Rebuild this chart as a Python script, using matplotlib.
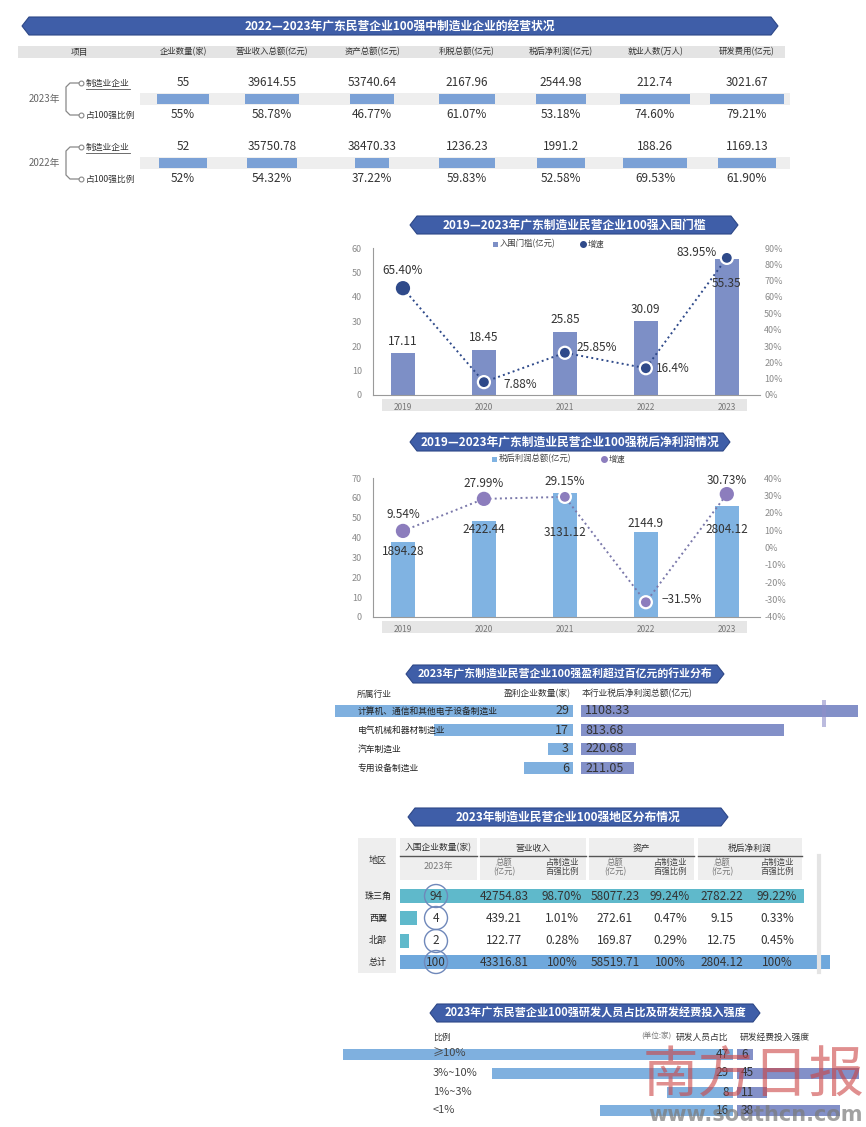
import matplotlib
matplotlib.use("Agg")
import matplotlib.pyplot as plt
from matplotlib.patches import Polygon, Rectangle, Circle
import numpy as np

plt.rcParams['font.family'] = ['Noto Sans CJK SC', 'DejaVu Sans']

W, H = 866, 1127

# ---------------- 数据 ----------------
# 表1: 2022-2023 年制造业企业经营状况
t1_cols = ["企业数量", "营业收入总额", "资产总额", "利税总额", "税后净利润", "就业人数", "研发费用"]
t1_units = ["(家)", "(亿元)", "(亿元)", "(亿元)", "(亿元)", "(万人)", "(亿元)"]
t1_2023_vals = ["55", "39614.55", "53740.64", "2167.96", "2544.98", "212.74", "3021.67"]
t1_2023_pct = ["55%", "58.78%", "46.77%", "61.07%", "53.18%", "74.60%", "79.21%"]
t1_2022_vals = ["52", "35750.78", "38470.33", "1236.23", "1991.2", "188.26", "1169.13"]
t1_2022_pct = ["52%", "54.32%", "37.22%", "59.83%", "52.58%", "69.53%", "61.90%"]

# 图2/图3
years = ["2019", "2020", "2021", "2022", "2023"]
threshold = [17.11, 18.45, 25.85, 30.09, 55.35]
threshold_growth = ["65.40%", "7.88%", "25.85%", "16.4%", "83.95%"]
profit = [1894.28, 2422.44, 3131.12, 2144.9, 2804.12]
profit_growth = ["9.54%", "27.99%", "29.15%", "−31.5%", "30.73%"]

# 图4: 行业分布
ind_names = ["计算机、通信和其他电子设备制造业", "电气机械和器材制造业", "汽车制造业", "专用设备制造业"]
ind_count = [29, 17, 3, 6]
ind_profit = [1108.33, 813.68, 220.68, 211.05]

# 表5: 地区分布
regions = ["珠三角", "西翼", "北部", "总计"]
reg_count = [94, 4, 2, 100]
reg_rev = ["42754.83", "439.21", "122.77", "43316.81"]
reg_rev_pct = ["98.70%", "1.01%", "0.28%", "100%"]
reg_asset = ["58077.23", "272.61", "169.87", "58519.71"]
reg_asset_pct = ["99.24%", "0.47%", "0.29%", "100%"]
reg_profit = ["2782.22", "9.15", "12.75", "2804.12"]
reg_profit_pct = ["99.22%", "0.33%", "0.45%", "100%"]

# 图6: 研发 (单位: 家)
rd_bins = ["≥10%", "3%~10%", "1%~3%", "<1%"]
rd_staff = [47, 29, 8, 16]
rd_spend = [6, 45, 11, 38]


def pct(s):
    return float(s.replace("%", "").replace("−", "-"))


BANNER = '#3f5ea8'
DARK = '#333333'
GRAY = '#8a8a8a'

fig = plt.figure(figsize=(W / 100, H / 100), dpi=100)
fig.patch.set_facecolor('white')

# 像素坐标的底层画布
ov = fig.add_axes([0, 0, 1, 1])
ov.set_xlim(0, W)
ov.set_ylim(H, 0)
ov.axis('off')


def box(x0, y0, x1, y1):
    return [x0 / W, 1 - y1 / H, (x1 - x0) / W, (y1 - y0) / H]


def banner(x0, x1, yc, text, h=18, fs=8.5):
    y0, y1 = yc - h / 2, yc + h / 2
    pts = [(x0, yc), (x0 + 7, y0), (x1 - 7, y0), (x1, yc), (x1 - 7, y1), (x0 + 7, y1)]
    ov.add_patch(Polygon(pts, closed=True, fc=BANNER, ec='#2d4787', lw=0.8))
    ov.text((x0 + x1) / 2, yc, text, color='white', fontsize=fs, fontweight='bold',
            ha='center', va='center')


# ================= 表1 =================
banner(22, 778, 26, "2022—2023年广东民营企业100强中制造业企业的经营状况")
ov.add_patch(Rectangle((18, 46), 767, 12, fc='#e4e4e4', ec='none'))
col_x = [183, 272, 372, 467, 561, 655, 747]
ov.text(80, 52, "项目", fontsize=6.3, color=DARK, ha='center', va='center')
for x, c, u in zip(col_x, t1_cols, t1_units):
    ov.text(x, 52, c + u, fontsize=6, color=DARK, ha='center', va='center')

for yv, vals, pcts, yr in [(83, t1_2023_vals, t1_2023_pct, "2023年"),
                           (147, t1_2022_vals, t1_2022_pct, "2022年")]:
    ymid = yv + 16
    ov.add_patch(Rectangle((140, ymid - 6), 650, 12, fc='#eeeeee', ec='none'))
    widths = np.array([pct(p) for p in pcts]) * 0.93
    ov.bar(col_x, 10, width=widths, bottom=ymid - 5, color='#7ba1d6')
    for x, v, p in zip(col_x, vals, pcts):
        ov.text(x, yv, v, fontsize=8.5, color=DARK, ha='center', va='center')
        ov.text(x, ymid + 16, p, fontsize=8.5, color=DARK, ha='center', va='center')
    # 左侧括号
    ov.text(44, ymid, yr, fontsize=7, color='#666666', ha='center', va='center')
    ov.plot([80, 70, 66, 66, 70, 80], [yv, yv, yv + 4, ymid + 12, ymid + 16, ymid + 16],
            color='#888888', lw=0.9)
    ov.plot([81, 81], [yv, ymid + 16], ls='none', marker='o', ms=3.5, mfc='white',
            mec='#888888', mew=0.8)
    ov.text(86, yv, "制造业企业", fontsize=6.3, color=DARK, ha='left', va='center')
    ov.plot([86, 130], [yv + 6, yv + 6], color='#555555', lw=0.6)
    ov.text(86, ymid + 16, "占100强比例", fontsize=6.3, color=DARK, ha='left', va='center')

# ================= 图2: 入围门槛 =================
banner(410, 738, 225, "2019—2023年广东制造业民营企业100强入围门槛")
C2_BAR, C2_DOT = '#7d8fc6', '#2f4a8a'
ov.add_patch(Rectangle((493, 241.5), 5, 5, fc=C2_BAR, ec='none'))
ov.text(500, 244, "入围门槛(亿元)", fontsize=6, color='#444444', va='center')
ov.plot([583], [244], 'o', ms=4, color=C2_DOT)
ov.text(588, 244, "增速", fontsize=6, color='#444444', va='center')
ov.add_patch(Rectangle((382, 399), 365, 12, fc='#e6e6e6', ec='none'))

x = np.arange(len(years))
ax2 = fig.add_axes(box(373, 248, 760, 395))
ax2.set_facecolor('none')
ax2.bar(x, threshold, width=0.29, color=C2_BAR, zorder=2)
ax2.set_xlim(-0.37, 4.41)
ax2.set_ylim(0, 60)
ax2.set_yticks(range(0, 61, 10))
ax2.set_xticks(x)
ax2.set_xticklabels(years)
rax2 = ax2.twinx()
rax2.set_ylim(0, 90)
rax2.set_yticks(range(0, 91, 10))
rax2.set_yticklabels([f"{v}%" for v in range(0, 91, 10)])
g2 = [pct(s) for s in threshold_growth]
rax2.plot(x, g2, ls=':', color=C2_DOT, lw=1.4, zorder=3)
rax2.scatter(x, g2, s=75, color=C2_DOT, edgecolors=[C2_DOT, 'white', 'white', 'white', 'white'],
             linewidths=1.6, zorder=4)

bar_off2 = [(0, 4, 'center', 'bottom'), (0, 4, 'center', 'bottom'), (0, 4, 'center', 'bottom'),
            (0, 4, 'center', 'bottom'), (0, -17, 'center', 'center')]
for i, v in enumerate(threshold):
    dx, dy, ha, va = bar_off2[i]
    ax2.annotate(f"{v:.2f}", (i, v), xytext=(dx, dy), textcoords='offset points',
                 ha=ha, va=va, fontsize=8.5, color=DARK, zorder=5)
dot_off2 = [(0, 13, 'center'), (14, -2, 'left'), (8, 4, 'left'), (7, 0, 'left'), (-7, 4, 'right')]
for i, s in enumerate(threshold_growth):
    dx, dy, ha = dot_off2[i]
    rax2.annotate(s, (i, g2[i]), xytext=(dx, dy), textcoords='offset points',
                  ha=ha, va='center', fontsize=8.5, color=DARK, zorder=5)

# ================= 图3: 税后净利润 =================
banner(410, 730, 442, "2019—2023年广东制造业民营企业100强税后净利润情况")
C3_BAR, C3_DOT = '#80b3e2', '#8c7dbd'
ov.add_patch(Rectangle((492, 456.5), 5, 5, fc=C3_BAR, ec='none'))
ov.text(499, 459, "税后利润总额(亿元)", fontsize=6, color='#444444', va='center')
ov.plot([604], [459], 'o', ms=4, color=C3_DOT)
ov.text(609, 459, "增速", fontsize=6, color='#444444', va='center')
ov.add_patch(Rectangle((382, 621), 365, 12, fc='#e6e6e6', ec='none'))

ax3 = fig.add_axes(box(373, 478, 760, 617))
ax3.set_facecolor('none')
# 柱高按 亿元/50 画在 0-70 的左轴上
ax3.bar(x, np.array(profit) / 50, width=0.29, color=C3_BAR, zorder=2)
ax3.set_xlim(-0.37, 4.41)
ax3.set_ylim(0, 70)
ax3.set_yticks(range(0, 71, 10))
ax3.set_xticks(x)
ax3.set_xticklabels(years)
rax3 = ax3.twinx()
rax3.set_ylim(-40, 40)
rax3.set_yticks(range(-40, 41, 10))
rax3.set_yticklabels([f"{v}%" for v in range(-40, 41, 10)])
g3 = [pct(s) for s in profit_growth]
rax3.plot(x, g3, ls=':', color='#7a78aa', lw=1.4, zorder=3)
rax3.scatter(x, g3, s=75, color=C3_DOT, edgecolors=[C3_DOT, C3_DOT, 'white', 'white', C3_DOT],
             linewidths=1.6, zorder=4)
bar_off3 = [-7, -6, -29, 6, -17]
for i, v in enumerate(profit):
    ax3.annotate(f"{v:g}" if i == 3 else f"{v:.2f}", (i, v / 50), xytext=(0, bar_off3[i]),
                 textcoords='offset points', ha='center', va='center', fontsize=8.5,
                 color=DARK, zorder=5)
dot_off3 = [(0, 12, 'center'), (0, 11, 'center'), (0, 11, 'center'), (11, 2, 'left'), (0, 10, 'center')]
for i, s in enumerate(profit_growth):
    dx, dy, ha = dot_off3[i]
    rax3.annotate(s, (i, g3[i]), xytext=(dx, dy), textcoords='offset points',
                  ha=ha, va='center', fontsize=8.5, color=DARK, zorder=5)

for a, ra in [(ax2, rax2), (ax3, rax3)]:
    for sp in ['top', 'right']:
        a.spines[sp].set_visible(False)
    for sp in ['left', 'bottom']:
        a.spines[sp].set_color('#9a9a9a')
        a.spines[sp].set_linewidth(0.8)
    for sp in ra.spines.values():
        sp.set_visible(False)
    a.tick_params(axis='y', length=0, labelsize=6.5, labelcolor='#8a8a8a', pad=8)
    a.tick_params(axis='x', length=0, labelsize=6, labelcolor='#777777', pad=6)
    ra.tick_params(axis='y', length=0, labelsize=6.5, labelcolor='#8a8a8a', pad=3)

# ================= 图4: 行业分布 =================
banner(406, 724, 674, "2023年广东制造业民营企业100强盈利超过百亿元的行业分布", fs=7.8)
ov.text(357, 694, "所属行业", fontsize=6.3, color=DARK, va='center')
ov.text(571, 694, "盈利企业数量(家)", fontsize=6.3, color=DARK, ha='right', va='center')
ov.text(582, 694, "本行业税后净利润总额(亿元)", fontsize=6.3, color=DARK, ha='left', va='center')
ind_y = [711, 730, 749, 768]
cnt_w = np.array(ind_count) * 8.2
ov.barh(ind_y, cnt_w, left=573 - cnt_w, height=12, color='#7fb0df')
ov.barh(ind_y, np.array(ind_profit) * 0.25, left=581, height=12, color='#8390c8')
ov.add_patch(Rectangle((822, 700), 4, 27, fc='#8f8fc8', ec='none', alpha=0.6))
for yy, n, c, p in zip(ind_y, ind_names, ind_count, ind_profit):
    ov.text(358, yy, n, fontsize=6.3, color='#222222', va='center')
    ov.text(569, yy, str(c), fontsize=9, color=DARK, ha='right', va='center')
    ov.text(585, yy, f"{p:.2f}", fontsize=9, color=DARK, ha='left', va='center')

# ================= 表5: 地区分布 =================
banner(408, 728, 817, "2023年制造业民营企业100强地区分布情况")
PANEL = '#eeeeee'
ov.add_patch(Rectangle((358, 838), 38, 135, fc=PANEL, ec='none'))
groups = [(400, 477, "入围企业数量(家)"), (480, 586, "营业收入"), (589, 694, "资产"), (698, 802, "税后净利润")]
for gx0, gx1, gt in groups:
    ov.add_patch(Rectangle((gx0, 838), gx1 - gx0, 42, fc=PANEL, ec='none'))
    ov.plot([gx0, gx1], [856, 856], color='#555555', lw=1)
    ov.text((gx0 + gx1) / 2, 848, gt, fontsize=6.3, color=DARK, ha='center', va='center')
ov.text(378, 861, "地区", fontsize=6.5, color=DARK, ha='center', va='center')
ov.text(438, 867, "2023年", fontsize=6.5, color='#777777', ha='center', va='center')
sub_x = [504, 562, 615, 670, 722, 777]
for i, sx in enumerate(sub_x):
    if i % 2 == 0:
        ov.text(sx, 867, "总额\n(亿元)", fontsize=6, color='#777777', ha='center', va='center',
                linespacing=1.0)
    else:
        ov.text(sx, 867, "占制造业\n百强比例", fontsize=6, color='#444444', ha='center', va='center',
                linespacing=1.0)
ov.plot([819, 819], [856, 972], color='#e4e4e4', lw=3)
reg_y = [896, 918, 941, 962]
ov.barh(reg_y, np.array(reg_count) * 4.3, left=400, height=14,
        color=['#5fb9cb', '#5fb9cb', '#5fb9cb', '#6fa8dc'])
cols5 = [reg_rev, reg_rev_pct, reg_asset, reg_asset_pct, reg_profit, reg_profit_pct]
for i, yy in enumerate(reg_y):
    ov.text(378, yy, regions[i], fontsize=6.5, color='#222222', ha='center', va='center')
    ov.add_patch(Circle((436, yy), 11.5, fc='none', ec='#6f88ba', lw=1))
    ov.text(436, yy, str(reg_count[i]), fontsize=8.5, color=DARK, ha='center', va='center')
    for sx, col in zip(sub_x, cols5):
        ov.text(sx, yy, col[i], fontsize=8.5, color=DARK, ha='center', va='center')

# ================= 图6: 研发 =================
banner(430, 760, 1013, "2023年广东民营企业100强研发人员占比及研发经费投入强度", fs=8)
ov.text(433, 1037, "比例", fontsize=6.3, color=DARK, va='center')
ov.text(672, 1037, "(单位:家)", fontsize=5.5, color='#777777', ha='right', va='center')
ov.text(676, 1037, "研发人员占比", fontsize=6.3, color=DARK, va='center')
ov.text(740, 1037, "研发经费投入强度", fontsize=6.3, color=DARK, va='center')
rd_y = [1054, 1073, 1092, 1110]
staff_w = np.array(rd_staff) * 8.3
ov.barh(rd_y, staff_w, left=733 - staff_w, height=11, color='#7fb0df')
ov.barh(rd_y, np.array(rd_spend) * 2.72, left=737, height=11, color='#8390c8')
for yy, b, s1, s2 in zip(rd_y, rd_bins, rd_staff, rd_spend):
    ov.text(433, yy, b, fontsize=8, color='#444444', va='center')
    ov.text(729, yy, str(s1), fontsize=8.5, color=DARK, ha='right', va='center')
    ov.text(741, yy, str(s2), fontsize=8.5, color=DARK, ha='left', va='center')

# 水印
ov.text(754, 1076, "南方日报", fontsize=40, color='#cc4444', alpha=0.6, ha='center',
        va='center')
ov.text(863, 1115, "www.southcn.com", fontsize=15, color='#7a7a7a', alpha=0.7,
        ha='right', va='center', fontweight='bold', family='DejaVu Sans')

fig.savefig("out.png", dpi=100)
